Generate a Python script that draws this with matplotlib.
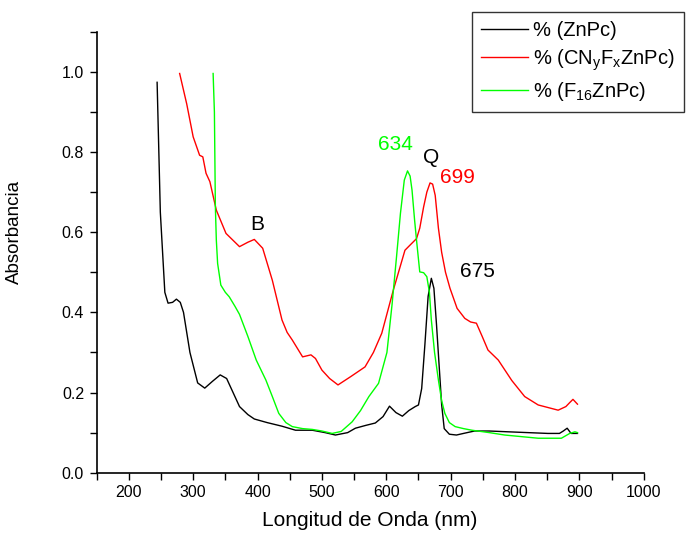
import matplotlib
matplotlib.use("Agg")
import matplotlib.pyplot as plt
from matplotlib.ticker import MultipleLocator, FormatStrFormatter

plt.rcParams['font.family'] = ['Liberation Sans', 'DejaVu Sans']
plt.rcParams['mathtext.fontset'] = 'custom'
plt.rcParams['mathtext.rm'] = 'Liberation Sans'
plt.rcParams['mathtext.it'] = 'Liberation Sans:italic'

# ZnPc (negro)
wl_znpc = [244, 249, 256, 261, 268, 274, 280, 285, 295, 307, 318, 330, 342, 352,
           362, 372, 385, 395, 415, 438, 459, 485, 505, 521, 540, 552, 568, 583,
           595, 605, 615, 625, 635, 645, 650, 655, 660, 665, 670, 674, 678, 682,
           686, 690, 698, 709, 720, 737, 760, 805, 851, 869, 875, 881, 887, 897]
abs_znpc = [0.974, 0.65, 0.45, 0.423, 0.425, 0.433, 0.425, 0.40, 0.30, 0.224,
            0.211, 0.228, 0.244, 0.235, 0.20, 0.165, 0.145, 0.134, 0.125, 0.116,
            0.106, 0.106, 0.100, 0.094, 0.100, 0.111, 0.118, 0.124, 0.140, 0.166,
            0.150, 0.141, 0.155, 0.165, 0.169, 0.21, 0.32, 0.44, 0.485, 0.46,
            0.37, 0.27, 0.17, 0.11, 0.096, 0.094, 0.098, 0.104, 0.104, 0.101,
            0.098, 0.098, 0.104, 0.111, 0.098, 0.098]

# CNyFxZnPc (rojo)
wl_cnf = [279, 290, 300, 310, 315, 320, 326, 336, 351, 372, 385, 395, 408, 423,
          438, 446, 454, 462, 470, 483, 490, 500, 512, 525, 545, 567, 580, 593,
          611, 629, 637, 647, 652, 658, 663, 668, 672, 676, 681, 686, 692, 699,
          710, 722, 731, 740, 749, 758, 774, 795, 815, 836, 867, 879, 885, 890, 897]
abs_cnf = [0.996, 0.92, 0.838, 0.792, 0.788, 0.747, 0.726, 0.655, 0.597, 0.564,
           0.575, 0.582, 0.56, 0.48, 0.381, 0.35, 0.331, 0.31, 0.289, 0.294,
           0.285, 0.256, 0.235, 0.219, 0.24, 0.264, 0.30, 0.348, 0.456, 0.555,
           0.568, 0.584, 0.61, 0.663, 0.70, 0.723, 0.72, 0.692, 0.61, 0.55,
           0.50, 0.46, 0.41, 0.385, 0.376, 0.373, 0.34, 0.306, 0.281, 0.23,
           0.19, 0.169, 0.156, 0.165, 0.175, 0.183, 0.171]

# F16ZnPc (verde)
wl_f16 = [331, 333, 334.5, 336, 338, 343, 350, 356, 365, 372, 385, 398, 413, 423,
          433, 444, 454, 470, 485, 500, 516, 530, 547, 560, 573, 588, 601, 609,
          616, 622, 628, 633, 637, 640, 644, 647, 652, 658, 663, 667, 670, 675,
          681, 686, 691, 698, 707, 720, 733, 760, 784, 810, 836, 872, 885, 893, 897]
abs_f16 = [0.996, 0.9, 0.663, 0.58, 0.522, 0.468, 0.45, 0.439, 0.415, 0.395,
           0.34, 0.281, 0.231, 0.19, 0.148, 0.125, 0.115, 0.11, 0.108, 0.104,
           0.098, 0.103, 0.127, 0.155, 0.19, 0.223, 0.30, 0.42, 0.54, 0.647,
           0.73, 0.753, 0.74, 0.705, 0.63, 0.58, 0.501, 0.499, 0.489, 0.45,
           0.381, 0.30, 0.231, 0.18, 0.148, 0.125, 0.115, 0.11, 0.106, 0.10,
           0.094, 0.09, 0.086, 0.086, 0.098, 0.102, 0.1]

labels = ['% (ZnPc)',
          r'% (CN$_\mathregular{y}$F$_\mathregular{x}$ZnPc)',
          r'% (F$_\mathregular{16}$ZnPc)']

fig = plt.figure(figsize=(6.9, 5.39), dpi=100)
ax = fig.add_axes([0.140, 0.123, 0.793, 0.818])

ax.plot(wl_znpc, abs_znpc, color='black', lw=1.0, label=labels[0])
ax.plot(wl_cnf, abs_cnf, color='#ff0000', lw=1.0, label=labels[1])
ax.plot(wl_f16, abs_f16, color='#00ff00', lw=1.0, label=labels[2])

ax.set_xlim(150, 1000)
ax.set_ylim(0, 1.1)
ax.set_xticks(range(200, 1001, 100))
ax.xaxis.set_minor_locator(MultipleLocator(50))
ax.yaxis.set_major_locator(MultipleLocator(0.2))
ax.yaxis.set_minor_locator(MultipleLocator(0.1))
ax.yaxis.set_major_formatter(FormatStrFormatter('%.1f'))
ax.tick_params(which='both', direction='out', length=5, width=1, labelsize=11.5, pad=4)
for s in ['top', 'right']:
    ax.spines[s].set_visible(False)
for s in ['left', 'bottom']:
    ax.spines[s].set_linewidth(1.2)

ax.set_xlabel('Longitud de Onda (nm)', fontsize=15, labelpad=8)
ax.set_ylabel('Absorbancia', fontsize=13.5)
ax.yaxis.set_label_coords(-0.135, 0.546)

# anotaciones de picos
ax.text(400, 0.62, 'B', fontsize=15, ha='center', va='center')
ax.text(614, 0.82, '634', fontsize=15, color='#00ff00', ha='center', va='center')
ax.text(670, 0.787, 'Q', fontsize=15, ha='center', va='center')
ax.text(711, 0.737, '699', fontsize=15, color='#ff0000', ha='center', va='center')
ax.text(741, 0.503, '675', fontsize=15, ha='center', va='center')

leg = fig.legend(loc='upper left', bbox_to_anchor=(472 / 690, 1 - 12 / 539),
                 fontsize=14.5, frameon=True, fancybox=False, handlelength=2.35,
                 handletextpad=0.25, labelspacing=0.35, borderpad=0.45,
                 borderaxespad=0)
leg.get_frame().set_edgecolor('black')
leg.get_frame().set_linewidth(1.0)

fig.savefig('out.png', dpi=100)
